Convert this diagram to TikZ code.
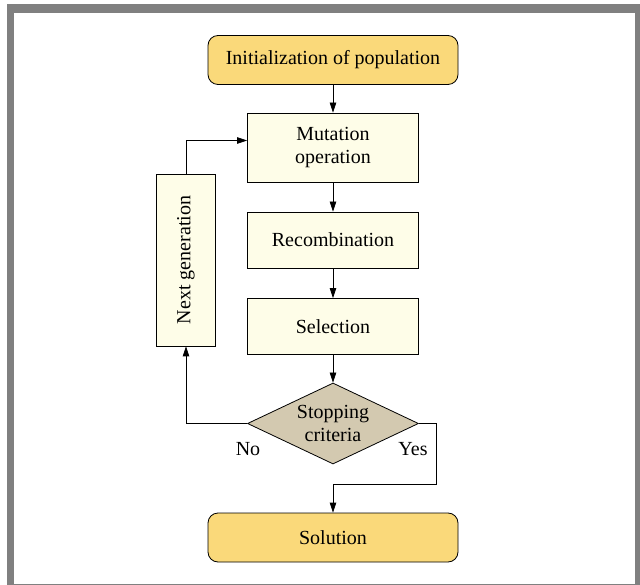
\documentclass[tikz,border=0pt]{standalone}
\usepackage{fontspec}
\setmainfont{Liberation Serif}
\usetikzlibrary{positioning,shapes.geometric,arrows.meta}

\definecolor{termfill}{HTML}{FAD97A}
\definecolor{boxfill}{HTML}{FEFDE8}
\definecolor{decfill}{HTML}{D3C9B0}
\definecolor{framegray}{HTML}{808080}

\begin{document}
\begin{tikzpicture}[
    x=1pt, y=1pt,
    font=\fontsize{20}{23}\selectfont,
    >={Triangle[length=10pt,width=6.5pt]},
    terminal/.style={draw, thick, fill=termfill, rounded corners=10pt,
                     minimum width=250pt, minimum height=49pt},
    process/.style={draw, thick, fill=boxfill,
                    minimum width=171pt, minimum height=56pt, align=center},
    decision/.style={draw, thick, fill=decfill, diamond, aspect=2.1,
                     minimum width=171pt, minimum height=81pt, inner sep=0pt,
                     align=center},
    link/.style={draw, thick, ->}]

% frame
\useasboundingbox (0,0) rectangle (640,-585);
\fill[framegray] (7,-4) rectangle (640,-585);
\fill[white] (14,-13) rectangle (635,-584);

\node[terminal] (init) at (333,-60) {Initialization of population};
\node[process, minimum height=69pt] (mutation) at (333,-147.5)
    {Mutation\\operation};
\node[process] (recomb) at (333,-240) {Recombination};
\node[process] (select) at (333,-326.5) {Selection};
\node[decision] (stop) at (333,-423.5) {Stopping\\criteria};
\node[terminal] (solution) at (333,-537.5) {Solution};
\node[process, rotate=90, minimum width=172pt, minimum height=59pt]
    (nextgen) at (186,-260) {Next generation};

\coordinate (yesturn) at (436,-484);

\draw[link] (init) -- (mutation);
\draw[link] (mutation) -- (recomb);
\draw[link] (recomb) -- (select);
\draw[link] (select) -- (stop);
\draw[link] (stop.west) -| (nextgen.west);
\draw[link] (nextgen.east) |- ([yshift=7pt]mutation.west);
\draw[link] (stop.east) -| (yesturn) -| (solution.north);

\node at (248,-449) {No};
\node at (413,-449) {Yes};

\end{tikzpicture}
\end{document}
